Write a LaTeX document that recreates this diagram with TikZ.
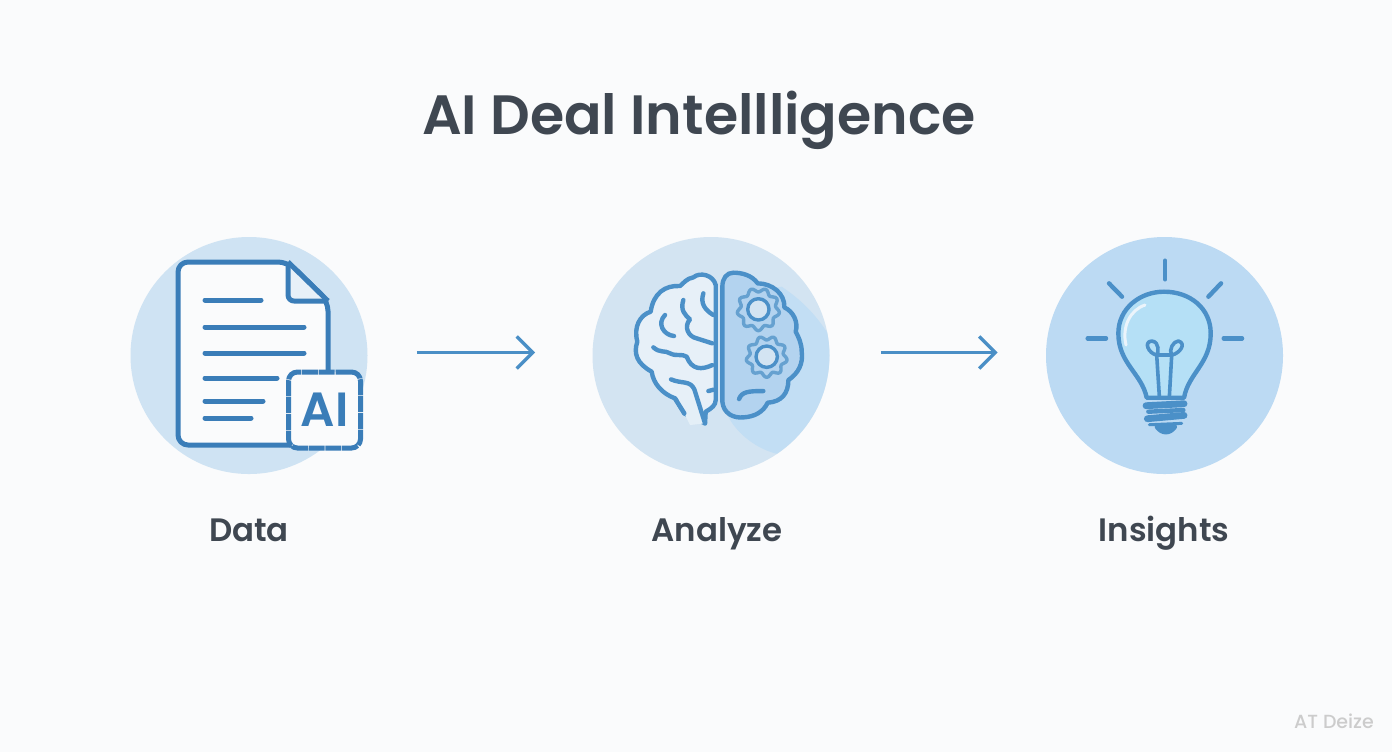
\documentclass[tikz,border=0pt]{standalone}
\usepackage{fontspec}
\setmainfont{Poppins}[UprightFont=* Medium,BoldFont=* SemiBold]
\usepackage{tikz}
\usetikzlibrary{arrows.meta}
\definecolor{pagebg}{HTML}{FAFBFC}
\definecolor{inkdark}{HTML}{3F4751}
\definecolor{inkblue}{HTML}{3A7DB8}
\definecolor{brainblue}{HTML}{4B90C8}
\definecolor{arrowblue}{HTML}{4A8FC6}
\definecolor{discdata}{HTML}{CFE3F3}
\definecolor{discbrain}{HTML}{D3E4F2}
\definecolor{discglow}{HTML}{C2DEF4}
\definecolor{discbulb}{HTML}{BCDAF3}
\definecolor{bulbglass}{HTML}{B5E0F6}
\definecolor{lobeblue}{HTML}{B3D3EF}
\tikzset{
  disc/.style={circle, inner sep=0pt, minimum size=118.5pt},
  caption/.style={text=inkdark, anchor=base, font=\fontsize{16.2}{18}\selectfont\bfseries},
  flowarrow/.style={line width=1.7pt, color=arrowblue, -{Straight Barb[length=8pt, width=16pt, line width=1.7pt]}},
  docline/.style={line width=2.5pt, color=inkblue, line cap=round},
  brainline/.style={line width=2.2pt, color=brainblue, line cap=round, line join=round},
}
\begin{document}
\begin{tikzpicture}[x=0.5pt, y=-0.5pt]
      \useasboundingbox (0,0) rectangle (1392,752);
      \fill[pagebg] (0,0) rectangle (1392,752);

      \node[anchor=base, text=inkdark, font=\fontsize{27.7}{32}\selectfont\bfseries] (title) at (699,134) {AI Deal Intellligence};

      % discs
      \node[disc, fill=discdata] (data) at (249,355.5) {};
      \node[disc, fill=discbrain] (analyze) at (711,355.5) {};
      \node[disc, fill=discbulb] (insights) at (1164.5,355.5) {};

      \node[caption] (datalabel) at (249,541) {Data};
      \node[caption] (analyzelabel) at (717,541) {Analyze};
      \node[caption] (insightslabel) at (1164,541) {Insights};

      \draw[flowarrow, shorten <=24.5pt, shorten >=28.5pt] ([yshift=1.5pt]data.east) -- ([yshift=1.5pt]analyze.west);
      \draw[flowarrow, shorten <=25.5pt, shorten >=24pt] ([yshift=1.5pt]analyze.east) -- ([yshift=1.5pt]insights.west);

      % document
      \draw[line width=2.5pt, color=inkblue, fill=pagebg, rounded corners=5pt, line join=round]
        (288,262) -- (178,262) -- (178,445) -- (328,445) -- (328,301) -- cycle;
      \fill[discdata!45!pagebg] (288,262) -- (288,301) -- (328,301) -- cycle;
      \draw[line width=2.5pt, color=inkblue, line join=round] (288,262) [rounded corners=3pt] -- (288,301) -- (328,301);
      \draw[line width=2.5pt, color=inkblue, line join=round] (288,262) -- (328,301);
      \draw[docline] (205,300) -- (261,300);
      \draw[docline] (205,327) -- (304,327);
      \draw[docline] (205,353) -- (304,353);
      \draw[docline] (205,378) -- (277,378);
      \draw[docline] (205,401) -- (263,401);
      \draw[docline] (205,418) -- (251,418);
      \node[draw=inkblue, fill=pagebg, line width=2.5pt, dash pattern=on 8pt off 0.4pt, rounded corners=4.5pt, minimum width=36pt, minimum height=38pt, inner sep=0pt, text=inkblue, font=\fontsize{24}{28}\selectfont\bfseries] (badge) at (324.5,410) {AI};

      % brain
      \begin{scope}[shift={(585,230)}, x=0.1667pt, y=-0.1667pt]
        \begin{scope}
          \clip (378,376) circle (355);
          \fill[discglow] (590,170) .. controls (650,210) and (700,260) .. (740,330)
            -- (760,700) -- (570,670)
            .. controls (500,650) and (450,600) .. (430,560) -- (412,200) -- cycle;
        \end{scope}
        \draw[brainline, fill=white!45!discbrain]
          (392,165) .. controls (385,135) and (345,125) .. (325,142)
          .. controls (305,145) and (295,160) .. (285,168)
          .. controls (240,165) and (205,190) .. (197,245)
          .. controls (165,255) and (145,290) .. (157,335)
          .. controls (145,370) and (155,400) .. (200,425)
          .. controls (205,460) and (230,490) .. (270,505)
          -- (298,550) -- (360,580) -- (362,545)
          .. controls (380,535) and (392,525) .. (392,510) -- cycle;
        \fill[discbrain!60!white] (272,510) -- (298,550) -- (315,585) -- (358,580) -- (345,510) -- cycle;
        \draw[brainline] (258,448) .. controls (290,462) and (315,450) .. (328,478) -- (360,580);
        \draw[brainline] (270,505) -- (298,550);
        \draw[brainline] (355,190) .. controls (345,220) and (360,240) .. (385,255);
        \draw[brainline] (295,210) .. controls (285,240) and (300,255) .. (315,268)
          .. controls (295,290) and (310,320) .. (335,325) -- (382,340);
        \draw[brainline] (240,255) .. controls (215,280) and (235,315) .. (267,318);
        \draw[brainline] (205,352) .. controls (225,370) and (240,360) .. (255,370)
          .. controls (275,380) and (290,370) .. (305,380)
          .. controls (320,420) and (350,420) .. (382,405);
        \draw[brainline] (370,483) -- (385,479);

        \draw[brainline, fill=lobeblue]
          (445,128) .. controls (425,128) and (412,145) .. (412,170) -- (412,515)
          .. controls (415,550) and (445,565) .. (475,562)
          .. controls (510,560) and (535,545) .. (548,518)
          .. controls (590,515) and (610,490) .. (610,450)
          .. controls (640,430) and (655,400) .. (650,365)
          .. controls (650,340) and (640,320) .. (632,305)
          .. controls (640,275) and (625,245) .. (598,232)
          .. controls (600,190) and (560,160) .. (518,160)
          .. controls (500,135) and (470,128) .. (445,128) -- cycle;
        \foreach \gearx/\geary/\gearr in {520/238/58, 545/380/56} {
          \draw[brainline, line width=1.7pt, color=brainblue!85!white] plot[smooth, domain=0:360, samples=73] ({\gearx+\gearr*cos(\x)+6*sin(9*\x)*cos(\x)}, {\geary+\gearr*sin(\x)+6*sin(9*\x)*sin(\x)});
          \draw[brainline, line width=1.7pt, fill=discbrain] (\gearx,\geary) circle (32);
        }
        \draw[brainline] (462,507) .. controls (470,485) and (490,483) .. (535,483);
      \end{scope}

      % bulb
      \begin{scope}[shift={(1040,230)}, x=0.1667pt, y=-0.1667pt]
        \draw[brainline] (375,92) -- (375,148);
        \draw[brainline] (207,160) -- (246,200);
        \draw[brainline] (543,160) -- (505,200);
        \draw[brainline] (143,325) -- (198,325);
        \draw[brainline] (551,325) -- (606,325);
        \draw[brainline, fill=bulbglass]
          (320,503) .. controls (305,430) and (235,400) .. (235,310)
          .. controls (235,235) and (300,185) .. (372,185)
          .. controls (450,185) and (512,235) .. (512,310)
          .. controls (512,400) and (445,430) .. (432,503) -- cycle;
        \draw[line width=1.5pt, color=white!70!discbulb, line cap=round] (258,345) .. controls (245,290) and (270,240) .. (315,225);
        \draw[brainline, line width=1.8pt] (358,500) -- (350,375) .. controls (325,370) and (310,335) .. (335,333)
          .. controls (360,335) and (355,370) .. (350,375) -- (395,375)
          .. controls (385,360) and (400,333) .. (415,333)
          .. controls (440,340) and (420,370) .. (395,375) -- (388,500);
        \draw[brainline, line width=3.4pt] (318,527) -- (432,521);
        \draw[brainline, line width=3.4pt] (322,566) -- (432,556);
        \draw[brainline, fill=discbulb] (325,545) -- (430,540);
        \draw[brainline, fill=brainblue] (350,590) .. controls (365,612) and (390,612) .. (405,590) -- cycle;
        \draw[brainline, line width=1.5pt] (328,584) -- (425,580);
      \end{scope}

      \node[text=black!20, font=\fontsize{9.5}{12}\selectfont] (mark) at (1334,721) {AT Deize};
    \end{tikzpicture}
\end{document}
